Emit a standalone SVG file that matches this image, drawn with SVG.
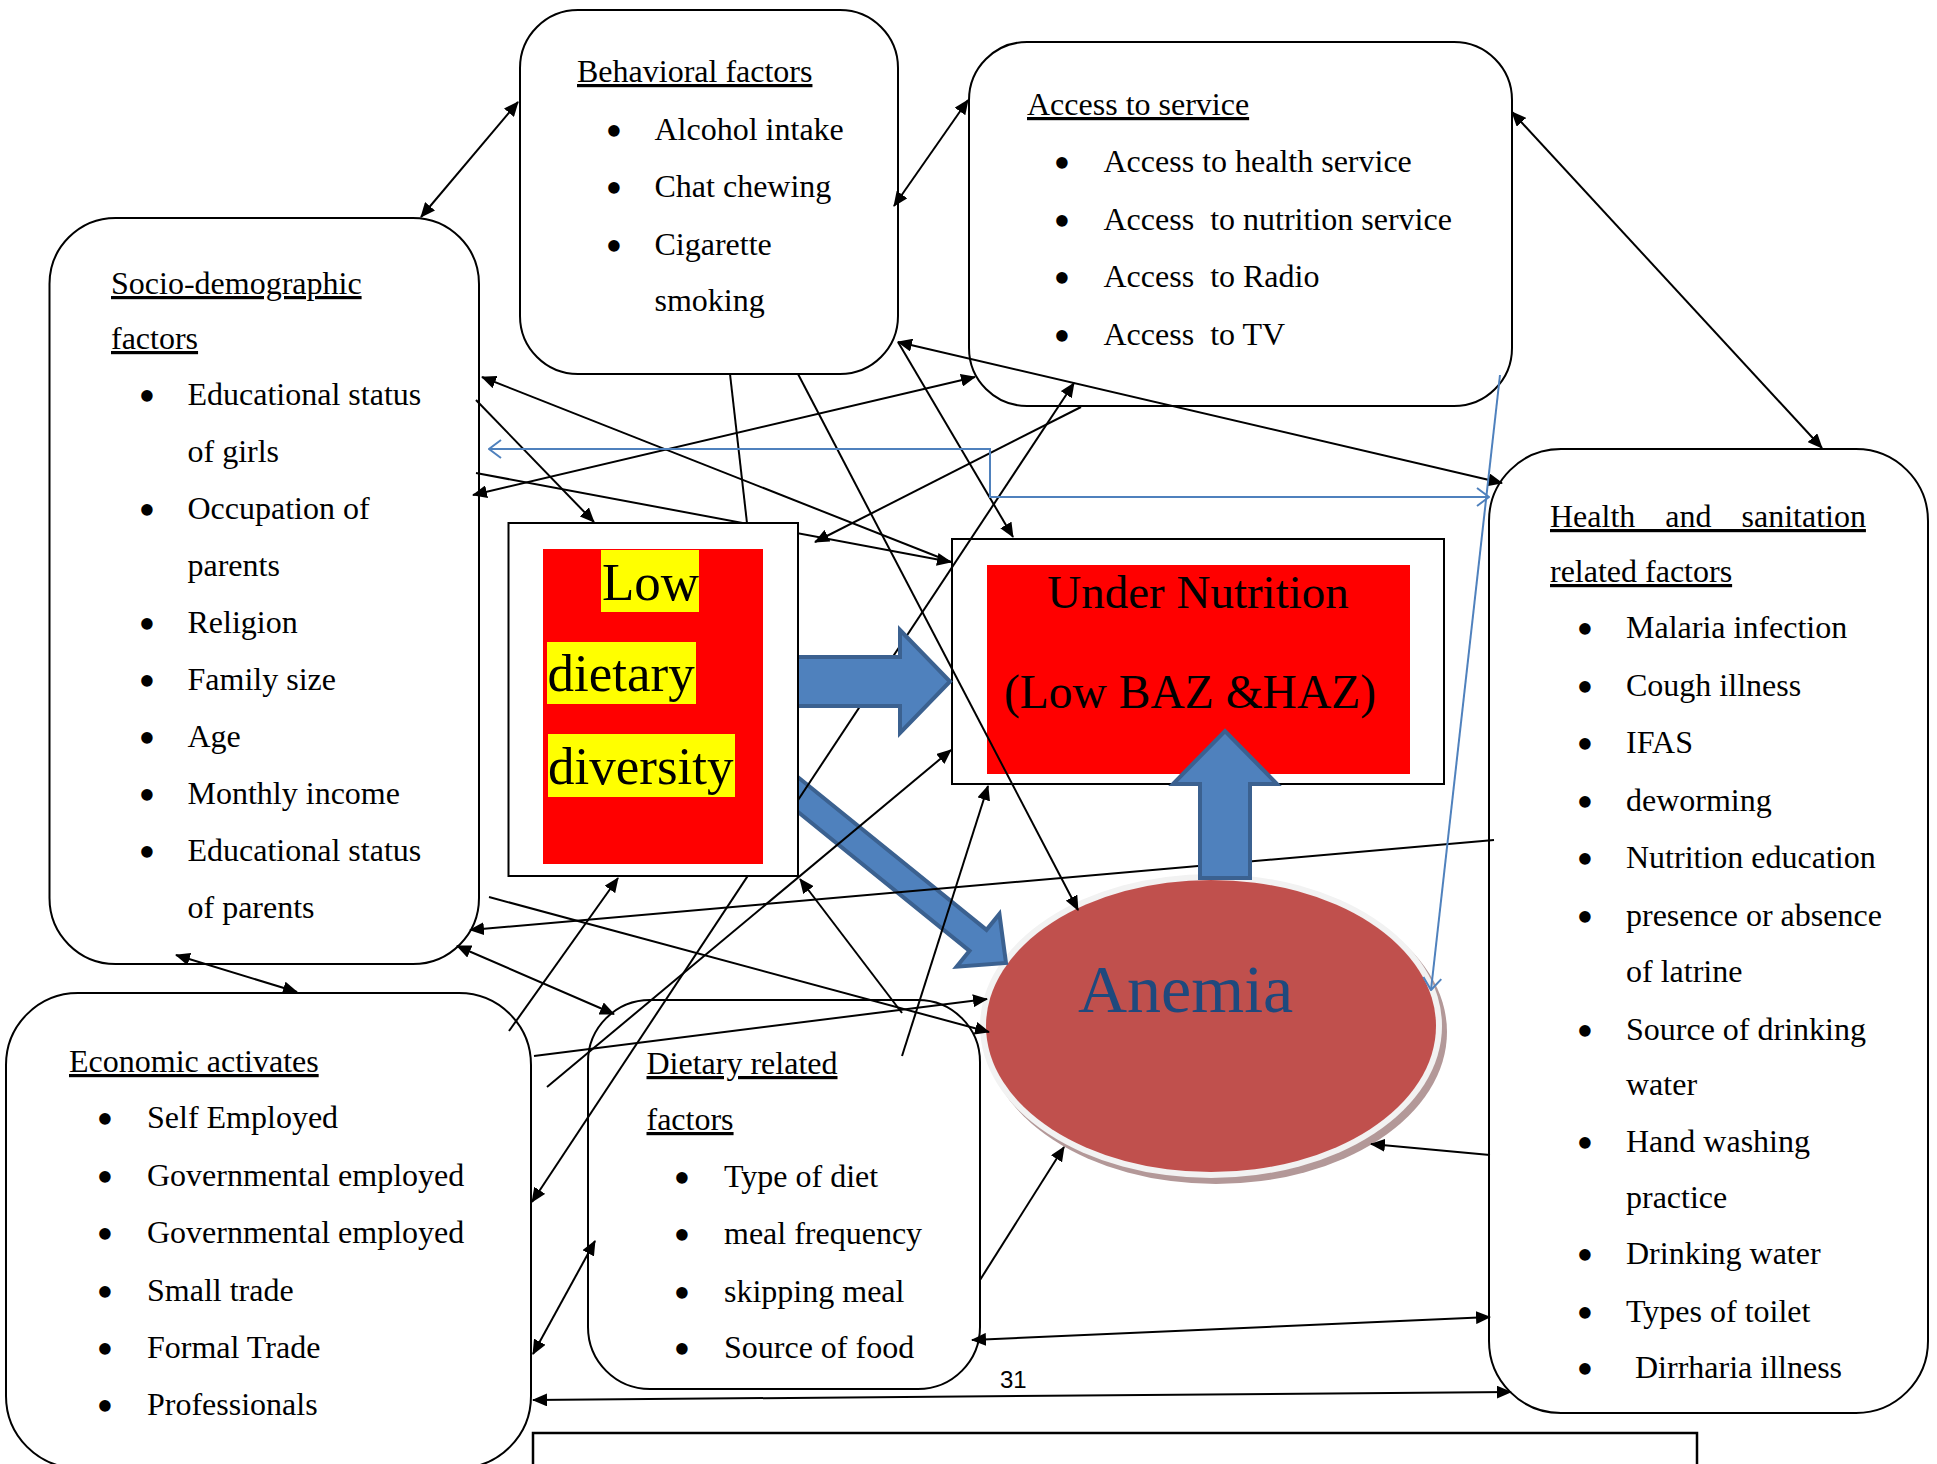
<svg xmlns="http://www.w3.org/2000/svg" width="1937" height="1464" viewBox="0 0 1937 1464">
<defs>
<style>
text{font-family:"Liberation Serif","Times New Roman",serif;font-size:32px;fill:#000}
.h{text-decoration:underline}
.b{text-anchor:middle;font-size:48px}
.box{fill:#fff;stroke:#000;stroke-width:2}
.ln{fill:none;stroke:#000;stroke-width:2}
.e{marker-end:url(#ah)}
.s{marker-start:url(#ah)}
.se{marker-start:url(#ah);marker-end:url(#ah)}
.bl{fill:none;stroke:#4F81BD;stroke-width:2}
.big{fill:#4F81BD;stroke:#3B6190;stroke-width:4;stroke-linejoin:miter}
.low{font-size:53px}
.un{font-size:47px}
.an{font-size:68px;fill:#1F497D}
.pg{font-family:"Liberation Sans",Arial,sans-serif;font-size:24px}
</style>
<marker id="ah" viewBox="0 0 15 13" refX="14" refY="6.5" markerWidth="15" markerHeight="13" orient="auto-start-reverse" markerUnits="userSpaceOnUse">
<path d="M0,0 L15,6.5 L0,13 z" fill="#000"/>
</marker>
<marker id="oa" viewBox="0 0 14 20" refX="13" refY="10" markerWidth="14" markerHeight="20" orient="auto-start-reverse" markerUnits="userSpaceOnUse">
<path d="M1,1 L13,10 L1,19" fill="none" stroke="#4F81BD" stroke-width="2"/>
</marker>
</defs>

<rect width="1937" height="1464" fill="#fff"/>

<!-- factor boxes -->
<g id="behavioral">
<rect class="box" x="520" y="10" width="378" height="364" rx="58"/>
<text class="h" x="577" y="82">Behavioral factors</text>
<text class="b" x="614" y="147">•</text><text x="654.5" y="140">Alcohol intake</text>
<text class="b" x="614" y="204">•</text><text x="654.5" y="197">Chat chewing</text>
<text class="b" x="614" y="262">•</text><text x="654.5" y="255">Cigarette</text>
<text x="654.5" y="311">smoking</text>
</g>

<g id="access">
<rect class="box" x="969" y="42" width="543" height="364" rx="58"/>
<text class="h" x="1027" y="115">Access to service</text>
<text class="b" x="1062" y="179">•</text><text x="1103.5" y="172" xml:space="preserve">Access to health service</text>
<text class="b" x="1062" y="236.5">•</text><text x="1103.5" y="229.5" xml:space="preserve">Access  to nutrition service</text>
<text class="b" x="1062" y="294">•</text><text x="1103.5" y="287" xml:space="preserve">Access  to Radio</text>
<text class="b" x="1062" y="351.5">•</text><text x="1103.5" y="344.5" xml:space="preserve">Access  to TV</text>
</g>

<g id="socio">
<rect class="box" x="49.5" y="218" width="429.5" height="746" rx="66"/>
<text class="h" x="111" y="294">Socio-demographic</text>
<text class="h" x="111" y="349">factors</text>
<text class="b" x="147" y="412">•</text><text x="187.5" y="405">Educational status</text>
<text x="187.5" y="462">of girls</text>
<text class="b" x="147" y="526">•</text><text x="187.5" y="519">Occupation of</text>
<text x="187.5" y="576">parents</text>
<text class="b" x="147" y="640">•</text><text x="187.5" y="633">Religion</text>
<text class="b" x="147" y="697">•</text><text x="187.5" y="690">Family size</text>
<text class="b" x="147" y="754">•</text><text x="187.5" y="747">Age</text>
<text class="b" x="147" y="811">•</text><text x="187.5" y="804">Monthly income</text>
<text class="b" x="147" y="868">•</text><text x="187.5" y="861">Educational status</text>
<text x="187.5" y="918">of parents</text>
</g>

<g id="economic">
<rect class="box" x="6" y="993" width="525" height="475" rx="72"/>
<text class="h" x="69" y="1072">Economic activates</text>
<text class="b" x="105" y="1135">•</text><text x="147" y="1128">Self Employed</text>
<text class="b" x="105" y="1193">•</text><text x="147" y="1186">Governmental employed</text>
<text class="b" x="105" y="1250">•</text><text x="147" y="1243">Governmental employed</text>
<text class="b" x="105" y="1308">•</text><text x="147" y="1301">Small trade</text>
<text class="b" x="105" y="1365">•</text><text x="147" y="1358">Formal Trade</text>
<text class="b" x="105" y="1422">•</text><text x="147" y="1415">Professionals</text>
</g>

<g id="dietary">
<rect class="box" x="588" y="1000" width="392" height="389" rx="62"/>
<text class="h" x="646.5" y="1074">Dietary related</text>
<text class="h" x="646.5" y="1130">factors</text>
<text class="b" x="682" y="1194">•</text><text x="724" y="1187">Type of diet</text>
<text class="b" x="682" y="1251">•</text><text x="724" y="1244">meal frequency</text>
<text class="b" x="682" y="1309">•</text><text x="724" y="1302">skipping meal</text>
<text class="b" x="682" y="1365">•</text><text x="724" y="1358">Source of food</text>
</g>

<g id="health">
<rect class="box" x="1489" y="449" width="439" height="964" rx="72"/>
<text class="h" x="1550" y="527" word-spacing="22">Health and sanitation</text>
<text class="h" x="1550" y="582">related factors</text>
<text class="b" x="1585" y="645">•</text><text x="1626" y="638">Malaria infection</text>
<text class="b" x="1585" y="703">•</text><text x="1626" y="696">Cough illness</text>
<text class="b" x="1585" y="760">•</text><text x="1626" y="753">IFAS</text>
<text class="b" x="1585" y="818">•</text><text x="1626" y="811">deworming</text>
<text class="b" x="1585" y="875">•</text><text x="1626" y="868">Nutrition education</text>
<text class="b" x="1585" y="933">•</text><text x="1626" y="926">presence or absence</text>
<text x="1626" y="982">of latrine</text>
<text class="b" x="1585" y="1047">•</text><text x="1626" y="1040">Source of drinking</text>
<text x="1626" y="1095">water</text>
<text class="b" x="1585" y="1159">•</text><text x="1626" y="1152">Hand washing</text>
<text x="1626" y="1208">practice</text>
<text class="b" x="1585" y="1271">•</text><text x="1626" y="1264">Drinking water</text>
<text class="b" x="1585" y="1329">•</text><text x="1626" y="1322">Types of toilet</text>
<text class="b" x="1585" y="1385">•</text><text x="1635" y="1378">Dirrharia illness</text>
</g>

<!-- outcome: under nutrition -->
<g id="under-nutrition">
<rect class="box" x="952" y="539" width="492" height="245"/>
<rect x="987" y="565" width="423" height="209" fill="#FF0000"/>
<text class="un" x="1198" y="608" text-anchor="middle">Under Nutrition</text>
<text class="un" x="1004" y="708" style="font-size:47.5px">(Low BAZ &amp;HAZ)</text>
</g>

<!-- outcome: anemia -->
<g id="anemia">
<ellipse cx="1216" cy="1032" rx="231" ry="152" fill="#B39898"/>
<ellipse cx="1211" cy="1026" rx="231" ry="152" fill="#F2F2F2"/>
<ellipse cx="1211" cy="1026" rx="225" ry="146" fill="#C0504D"/>
<text class="an" x="1078" y="1012">Anemia</text>
</g>

<!-- thick arrow toward anemia (drawn under the thin connectors) -->
<g id="arrow-to-anemia">
<polygon class="big" transform="translate(1006,963) rotate(39)" points="0,0 -36,-34 -36,-13.5 -290,-13.5 -290,13.5 -36,13.5 -36,34"/>
</g>

<!-- connectors -->
<g id="connectors">
<line class="ln se" x1="518" y1="102" x2="421" y2="217"/>
<line class="ln se" x1="894" y1="206" x2="968" y2="100"/>
<line class="ln se" x1="1512" y1="112" x2="1822" y2="448"/>
<line class="ln se" x1="176" y1="955" x2="297" y2="992"/>
<line class="ln e" x1="476" y1="400" x2="594" y2="522"/>
<line class="ln s" x1="482" y1="377" x2="951" y2="562"/>
<line class="ln e" x1="476" y1="473" x2="951" y2="562"/>
<line class="ln se" x1="473" y1="495" x2="975" y2="377"/>
<line class="ln" x1="730" y1="374" x2="747" y2="523"/>
<line class="ln e" x1="798" y1="374" x2="1078" y2="910"/>
<line class="ln se" x1="898" y1="342" x2="1502" y2="483"/>
<line class="ln e" x1="898" y1="342" x2="1013" y2="537"/>
<line class="ln e" x1="1081" y1="407" x2="815" y2="542"/>
<line class="ln se" x1="532" y1="1202" x2="1074" y2="383"/>
<line class="ln e" x1="509" y1="1031" x2="618" y2="878"/>
<line class="ln e" x1="547" y1="1087" x2="951" y2="750"/>
<line class="ln e" x1="902" y1="1056" x2="988" y2="786"/>
<line class="ln e" x1="902" y1="1013" x2="800" y2="879"/>
<line class="ln e" x1="489" y1="897" x2="989" y2="1032"/>
<line class="ln e" x1="534" y1="1056" x2="987" y2="999"/>
<line class="ln e" x1="1494" y1="840" x2="470" y2="930"/>
<line class="ln se" x1="457" y1="946" x2="614" y2="1014"/>
<line class="ln se" x1="533" y1="1354" x2="595" y2="1241"/>
<line class="ln se" x1="533" y1="1400" x2="1511" y2="1392"/>
<line class="ln se" x1="972" y1="1340" x2="1490" y2="1317"/>
<line class="ln e" x1="980" y1="1280" x2="1064" y2="1147"/>
<line class="ln e" x1="1490" y1="1155" x2="1371" y2="1144"/>
<path class="bl" d="M489,449 H990 V497 H1489" marker-start="url(#oa)" marker-end="url(#oa)"/>
<line class="bl" x1="1500" y1="375" x2="1431" y2="990" marker-end="url(#oa)"/>
</g>

<!-- thick arrows into under nutrition -->
<g id="arrow-to-under-nutrition">
<polygon class="big" points="790,657 900,657 900,630 950,681.5 900,733 900,706 790,706"/>
<polygon class="big" points="1200,878 1200,784 1173,784 1225,731 1277,784 1250,784 1250,878"/>
</g>

<!-- exposure: low dietary diversity -->
<g id="low-dietary-diversity">
<rect class="box" x="508.5" y="523" width="289.5" height="353"/>
<rect x="543" y="549" width="220" height="315" fill="#FF0000"/>
<rect x="601" y="550" width="98" height="62" fill="#FFFF00"/>
<rect x="547" y="642" width="149" height="62" fill="#FFFF00"/>
<rect x="548" y="734" width="187" height="63" fill="#FFFF00"/>
<text class="low" x="602" y="600">Low</text>
<text class="low" x="547.5" y="691">dietary</text>
<text class="low" x="548" y="784">diversity</text>
</g>

<text class="pg" x="1000" y="1388">31</text>
<rect x="533" y="1433" width="1164" height="40" fill="none" stroke="#000" stroke-width="2.5"/>
</svg>
